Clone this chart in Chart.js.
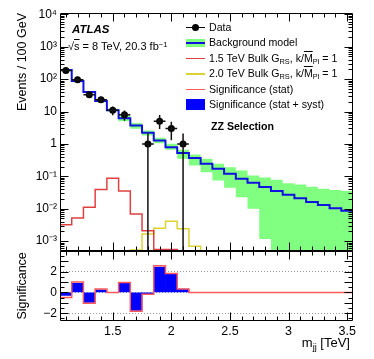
<!DOCTYPE html>
<html>
<head>
<meta charset="utf-8">
<script src="https://cdn.jsdelivr.net/npm/chart.js@4"></script>
<style>
  html, body { margin: 0; padding: 0; background: #fff; }
  #wrap { position: relative; width: 374px; height: 359px; font-family: 'Liberation Sans', Arial, sans-serif; color: #000; }
  #wrap canvas { position: absolute; left: 0; top: 0; }
  .txt { position: absolute; white-space: nowrap; line-height: 1; }
  .ov { text-decoration: overline; }
  .sb { font-size: 0.7em; vertical-align: -0.3em; line-height: 0; }
  .sp { font-size: 0.7em; vertical-align: 0.45em; line-height: 0; }
  #atlas { left: 72px; top: 23.5px; font-size: 11.5px; font-weight: bold; font-style: italic; }
  #energy { left: 68px; top: 40.5px; font-size: 11px; }
  #selection { left: 211px; top: 120.5px; font-size: 10.6px; font-weight: bold; }
  #xtitle { right: 24px; top: 336px; font-size: 13px; }
  #legend { position: absolute; left: 186px; top: 19.5px; font-size: 10.6px; }
  .row { position: relative; height: 15.5px; line-height: 15.5px; padding-left: 23px; white-space: nowrap; }
  .sym { position: absolute; left: 0; top: 0; width: 19px; height: 15.5px; }
  .sym i { position: absolute; display: block; }
  .line { left: 0; width: 19px; top: 7px; height: 1.5px; }
  .dot { left: 6px; top: 4.5px; width: 7px; height: 7px; border-radius: 50%; background: #000; }
  .box { left: 0; width: 19px; }
</style>
</head>
<body>
<div id="wrap">
  <canvas id="chart" width="374" height="359"></canvas>
  <div class="txt" id="atlas">ATLAS</div>
  <div class="txt" id="energy">&radic;<span class="ov">s</span> = 8 TeV, 20.3 fb<span class="sp">&minus;1</span></div>
  <div class="txt" id="selection">ZZ Selection</div>
  <div class="txt" id="xtitle">m<span class="sb">jj</span> [TeV]</div>
  <div id="legend">
    <div class="row"><span class="sym"><i class="line" style="background:#000;height:1px"></i><i class="dot"></i></span>Data</div>
    <div class="row"><span class="sym"><i class="box" style="top:3.5px;height:8.5px;background:#80ff80"></i><i class="line" style="background:#1010e0;height:2px"></i></span>Background model</div>
    <div class="row"><span class="sym"><i class="line" style="background:rgba(220,30,30,0.85)"></i></span>1.5 TeV Bulk G<span class="sb">RS</span>, k/<span class="ov">M</span><span class="sb">Pl</span> = 1</div>
    <div class="row"><span class="sym"><i class="line" style="background:rgba(215,205,30,0.9)"></i></span>2.0 TeV Bulk G<span class="sb">RS</span>, k/<span class="ov">M</span><span class="sb">Pl</span> = 1</div>
    <div class="row"><span class="sym"><i class="line" style="background:#ff5a5a"></i></span>Significance (stat)</div>
    <div class="row"><span class="sym"><i class="box" style="top:2px;height:11px;background:#0000ff"></i></span>Significance (stat + syst)</div>
  </div>
</div>
<script>
// bin centres in TeV, 100 GeV wide bins
var massBins = [1.1, 1.2, 1.3, 1.4, 1.5, 1.6, 1.7, 1.8, 1.9, 2.0, 2.1, 2.2, 2.3, 2.4, 2.5, 2.6, 2.7, 2.8, 2.9, 3.0, 3.1, 3.2, 3.3, 3.4, 3.5];
var binWidth = 0.1;

var dataEvents  = [183, 95, 33, 23, 11, 8, 0, 1, 5, 3, 1, 0, 0, 0, 0, 0, 0, 0, 0, 0, 0, 0, 0, 0, 0];
var dataErrDown = [13.5, 9.7, 5.7, 4.8, 3.3, 2.8, 0, 1, 2.1, 1.7, 1, 0, 0, 0, 0, 0, 0, 0, 0, 0, 0, 0, 0, 0, 0];
var dataErrUp   = [13.5, 9.7, 5.7, 4.8, 3.3, 2.8, 0, 1.1, 2.8, 1.8, 1.1, 0, 0, 0, 0, 0, 0, 0, 0, 0, 0, 0, 0, 0, 0];

var bkgModel = [190, 87, 40, 21, 11, 6.2, 3.7, 2.2, 1.28, 0.79, 0.52, 0.37, 0.243, 0.17, 0.119, 0.084, 0.063, 0.047, 0.035, 0.027, 0.021, 0.016, 0.013, 0.0103, 0.0086];
var bkgUp    = [205, 94, 43, 22.7, 12.1, 7.6, 4.4, 2.6, 1.55, 1.01, 0.66, 0.47, 0.35, 0.243, 0.191, 0.151, 0.106, 0.092, 0.078, 0.061, 0.056, 0.048, 0.041, 0.038, 0.035];
var bkgDown  = [175, 80, 37, 19.4, 10, 5.05, 2.94, 1.82, 1.05, 0.66, 0.35, 0.216, 0.134, 0.074, 0.044, 0.0226, 0.0099, 0.00117, 0, 0, 0, 0, 0, 0, 0];

var signal15 = [0.0032, 0.0052, 0.011, 0.039, 0.087, 0.035, 0.0069, 0.0021, 0.00055, 0.00055, 0, 0, 0, 0, 0, 0, 0, 0, 0, 0, 0, 0, 0, 0, 0];
var signal20 = [0, 0, 0, 0, 0, 0, 0.00053, 0.00165, 0.0025, 0.0041, 0.0024, 0.00069, 0, 0, 0, 0, 0, 0, 0, 0, 0, 0, 0, 0, 0];

var sigStat     = [-0.48, 1.0, -1.05, 0.32, 0, 0.95, -1.8, -0.18, 2.57, 1.82, 0.33, 0, 0, 0, 0, 0, 0, 0, 0, 0, 0, 0, 0, 0, 0];
var sigStatSyst = [-0.3, 0.87, -0.96, 0.26, 0, 0.88, -1.73, -0.17, 2.43, 1.73, 0.31, 0, 0, 0, 0, 0, 0, 0, 0, 0, 0, 0, 0, 0, 0];

var xTickValues = [1.5, 2, 2.5, 3, 3.5];
var xTickLabels = ['1.5', '2', '2.5', '3', '3.5'];
var yTickValues = [1e-3, 1e-2, 1e-1, 1, 10, 1e2, 1e3, 1e4];
var yTickLabels = ['10\u207B\u00B3', '10\u207B\u00B2', '10\u207B\u00B9', '1', '10', '10\u00B2', '10\u00B3', '10\u2074'];
var sigTickValues = [-2, -1, 0, 1, 2, 3];
var sigTickLabels = ['\u22122', '\u22121', '0', '1', '2', '3'];

var Y_MIN = 5e-4, Y_MAX = 1.1e4;
var FONT = "'Liberation Sans', Arial, sans-serif";

// histogram outline points: one per left bin edge plus the last right edge
function histPoints(values, floor, dropAtEnd) {
    var pts = massBins.map(function (m, i) {
        return { x: m - binWidth / 2, y: floor ? Math.max(values[i], Y_MIN) : values[i] };
    });
    var last = massBins[massBins.length - 1] + binWidth / 2;
    var v = values[values.length - 1];
    pts.push({ x: last, y: floor ? Math.max(v, Y_MIN) : v });
    if (dropAtEnd) pts.push({ x: last, y: Y_MIN });
    return pts;
}

var errorBarPlugin = {
    id: 'errorBars',
    afterDatasetsDraw: function (chart) {
        var ctx = chart.ctx, xs = chart.scales.x, ys = chart.scales.y;
        ctx.save();
        ctx.strokeStyle = '#111';
        ctx.lineWidth = 1.5;
        dataEvents.forEach(function (n, i) {
            if (n <= 0) return;
            var px = xs.getPixelForValue(massBins[i]);
            var py = ys.getPixelForValue(n);
            ctx.beginPath();
            ctx.moveTo(px, ys.getPixelForValue(Math.max(n - dataErrDown[i], Y_MIN)));
            ctx.lineTo(px, ys.getPixelForValue(n + dataErrUp[i]));
            ctx.moveTo(xs.getPixelForValue(massBins[i] - binWidth / 2), py);
            ctx.lineTo(xs.getPixelForValue(massBins[i] + binWidth / 2), py);
            ctx.stroke();
        });
        ctx.restore();
    }
};

// ROOT style frame with inward ticks on all four sides of both pads
var framePlugin = {
    id: 'frame',
    afterDraw: function (chart) {
        var ctx = chart.ctx, xs = chart.scales.x, area = chart.chartArea;
        var left = Math.round(area.left) + 0.5, right = Math.round(area.right) - 0.5;
        ctx.save();
        ctx.strokeStyle = '#000';
        ctx.lineWidth = 1;
        ['y', 'y2'].forEach(function (id) {
            var s = chart.scales[id];
            var top = Math.round(s.top) + 0.5, bottom = Math.round(s.bottom) - 0.5;
            ctx.beginPath();
            ctx.rect(left, top, right - left, bottom - top);
            for (var k = 11; k <= 35; k++) {
                var px = Math.round(xs.getPixelForValue(k / 10)) + 0.5;
                var len = k % 5 === 0 ? 8 : 4;
                ctx.moveTo(px, bottom); ctx.lineTo(px, bottom - len);
                ctx.moveTo(px, top); ctx.lineTo(px, top + len);
            }
            var yTicks = [];
            if (s.type === 'logarithmic') {
                for (var d = -4; d <= 4; d++) {
                    for (var m = 1; m <= 9; m++) yTicks.push({ v: m * Math.pow(10, d), major: m === 1 });
                }
            } else {
                for (var h = -6; h <= 8; h++) yTicks.push({ v: h / 2, major: h % 2 === 0 });
            }
            yTicks.forEach(function (t) {
                if (t.v < s.min || t.v > s.max) return;
                var py = Math.round(s.getPixelForValue(t.v)) + 0.5;
                var l = t.major ? 8 : 4;
                ctx.moveTo(left, py); ctx.lineTo(left + l, py);
                ctx.moveTo(right, py); ctx.lineTo(right - l, py);
            });
            ctx.stroke();
        });
        ctx.restore();
    }
};

function fixWidth(scale) { scale.width = 60; }

new Chart(document.getElementById('chart'), {
    type: 'line',
    data: {
        datasets: [{
            label: 'Data',
            data: massBins.map(function (m, i) { return { x: m, y: dataEvents[i] > 0 ? dataEvents[i] : null }; }),
            yAxisID: 'y',
            showLine: false,
            pointRadius: 3.5,
            pointBackgroundColor: '#000',
            pointBorderColor: '#000',
            pointBorderWidth: 0
        }, {
            label: '1.5 TeV Bulk G_RS',
            data: histPoints(signal15, true, false),
            yAxisID: 'y',
            stepped: true,
            borderColor: 'rgba(220,30,30,0.85)',
            borderWidth: 1.5,
            pointRadius: 0
        }, {
            label: '2.0 TeV Bulk G_RS',
            data: histPoints(signal20, true, false),
            yAxisID: 'y',
            stepped: true,
            borderColor: 'rgba(215,205,30,0.9)',
            borderWidth: 1.5,
            pointRadius: 0
        }, {
            label: 'Background model',
            data: histPoints(bkgModel, true, true),
            yAxisID: 'y',
            stepped: true,
            borderColor: '#1010e0',
            borderWidth: 2,
            pointRadius: 0
        }, {
            label: 'bkg up',
            data: histPoints(bkgUp, true, false),
            yAxisID: 'y',
            stepped: true,
            borderWidth: 0,
            borderColor: 'rgba(0,0,0,0)',
            backgroundColor: '#80ff80',
            fill: '+1',
            pointRadius: 0
        }, {
            label: 'bkg down',
            data: histPoints(bkgDown, true, false),
            yAxisID: 'y',
            stepped: true,
            borderWidth: 0,
            borderColor: 'rgba(0,0,0,0)',
            fill: false,
            pointRadius: 0
        }, {
            label: 'Significance (stat)',
            data: histPoints(sigStat, false, false),
            yAxisID: 'y2',
            stepped: true,
            borderColor: '#ff5a5a',
            borderWidth: 1.5,
            pointRadius: 0
        }, {
            type: 'bar',
            label: 'Significance (stat + syst)',
            data: massBins.map(function (m, i) { return { x: m, y: sigStatSyst[i] }; }),
            yAxisID: 'y2',
            backgroundColor: '#0000ff',
            borderWidth: 0,
            barPercentage: 1,
            categoryPercentage: 1
        }]
    },
    options: {
        responsive: false,
        animation: false,
        layout: { padding: { top: 13, right: 21, bottom: 17, left: 0 } },
        plugins: {
            legend: { display: false },
            tooltip: { enabled: false }
        },
        scales: {
            x: {
                type: 'linear',
                min: 1.05,
                max: 3.55,
                offset: false,
                grid: { display: false, drawTicks: false },
                border: { display: false },
                afterBuildTicks: function (s) { s.ticks = xTickValues.map(function (v) { return { value: v }; }); },
                ticks: {
                    padding: 3,
                    maxRotation: 0,
                    color: '#000',
                    font: { family: FONT, size: 12.5 },
                    callback: function (v) { return xTickLabels[xTickValues.indexOf(v)]; }
                }
            },
            // left boxes of one stack are placed last-defined first, so the lower pad comes first
            y2: {
                type: 'linear',
                position: 'left',
                stack: 'pads',
                stackWeight: 1,
                min: -2.75,
                max: 4.0,
                grid: { color: '#999', lineWidth: 1, drawTicks: false },
                border: { display: false, dash: [1, 2] },
                afterBuildTicks: function (s) { s.ticks = sigTickValues.map(function (v) { return { value: v }; }); },
                afterFit: fixWidth,
                ticks: {
                    padding: 3,
                    color: '#000',
                    font: { family: FONT, size: 12 },
                    callback: function (v) { return sigTickLabels[sigTickValues.indexOf(v)]; }
                },
                title: {
                    display: true,
                    text: 'Significance',
                    color: '#000',
                    font: { family: FONT, size: 12.5 },
                    padding: { top: 15, bottom: 0 }
                }
            },
            y: {
                type: 'logarithmic',
                position: 'left',
                stack: 'pads',
                stackWeight: 3.39,
                min: Y_MIN,
                max: Y_MAX,
                grid: { display: false, drawTicks: false },
                border: { display: false },
                afterBuildTicks: function (s) { s.ticks = yTickValues.map(function (v) { return { value: v }; }); },
                afterFit: fixWidth,
                ticks: {
                    padding: 3,
                    color: '#000',
                    font: { family: FONT, size: 12 },
                    callback: function (v) { return yTickLabels[yTickValues.indexOf(v)]; }
                },
                title: {
                    display: true,
                    text: 'Events / 100 GeV',
                    align: 'end',
                    color: '#000',
                    font: { family: FONT, size: 12.5 },
                    padding: { top: 15, bottom: 0 }
                }
            }
        }
    },
    plugins: [errorBarPlugin, framePlugin]
});
</script>
</body>
</html>
